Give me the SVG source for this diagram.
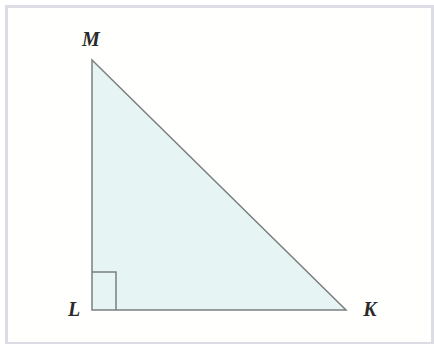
<svg xmlns="http://www.w3.org/2000/svg" width="434" height="344" viewBox="0 0 434 344">
<style>
.edge{stroke:#7a7f80;stroke-width:1.5;fill:none}
.tri{stroke:#7a7f80;stroke-width:1.5;fill:#e6f4f4}
.lbl{font-family:"Liberation Serif",serif;font-style:italic;font-weight:bold;font-size:20px;fill:#2a2a2a;text-anchor:middle}
</style>
<rect x="0" y="0" width="434" height="344" fill="#ffffff"/>
<rect x="6.5" y="6.5" width="426" height="337" fill="#fffffd" stroke="#dcdce4" stroke-width="3"/>
<g id="triangle">
<polygon points="92,60 92,310 346,310" class="tri"/>
<polyline points="92,272 116,272 116,310" class="edge"/>
</g>
<g id="M"><text class="lbl" x="91" y="46">M</text></g>
<g id="L"><text class="lbl" x="74" y="316">L</text></g>
<g id="K"><text class="lbl" x="370" y="316">K</text></g>
</svg>
